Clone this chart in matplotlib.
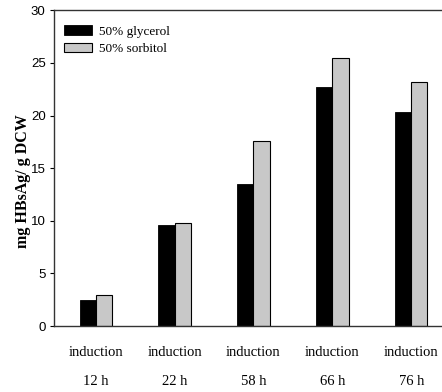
import matplotlib
matplotlib.use("Agg")
import matplotlib.pyplot as plt
import numpy as np

categories = ["induction\n12 h", "induction\n22 h", "induction\n58 h", "induction\n66 h", "induction\n76 h"]
glycerol = [2.45, 9.6, 13.5, 22.7, 20.3]
sorbitol = [2.95, 9.8, 17.6, 25.5, 23.2]
series_labels = ["50% glycerol", "50% sorbitol"]
yticks = [0, 5, 10, 15, 20, 25, 30]

fig = plt.figure(figsize=(4.42, 3.92), dpi=100)
ax = fig.add_axes([0.122, 0.168, 0.878, 0.806])

x = np.arange(len(categories))
w = 0.205
ax.bar(x - w / 2, glycerol, w, color="black", edgecolor="black", linewidth=0.6,
       label=series_labels[0])
ax.bar(x + w / 2, sorbitol, w, color="#c8c8c8", edgecolor="black", linewidth=0.8,
       label=series_labels[1])

ax.set_xlim(-0.53, 4.39)
ax.set_ylim(0, 30)
ax.set_yticks(yticks)
ax.set_yticklabels([str(t) for t in yticks], family="Liberation Sans", fontsize=9.5)
ax.tick_params(axis="y", direction="out", length=3, width=0.8, pad=3)
ax.set_xticks(x)
ax.set_xticklabels(categories, family="Liberation Serif", fontsize=10.5, linespacing=2.6)
ax.tick_params(axis="x", length=0, pad=14)

ax.spines["right"].set_visible(False)
for s in ["left", "bottom", "top"]:
    ax.spines[s].set_linewidth(1.0)
    ax.spines[s].set_color("#333333")

ax.set_ylabel("mg HBsAg/ g DCW", family="Liberation Serif", fontweight="bold",
              fontsize=11.5)
ax.yaxis.set_label_coords(-0.058, 0.46)

leg = ax.legend(loc="upper left", frameon=False, prop={"family": "Liberation Serif", "size": 9.5},
                handlelength=2.1, handleheight=0.75, borderaxespad=0.4, labelspacing=0.35,
                handletextpad=0.5, bbox_to_anchor=(0.0, 0.985))

fig.savefig("out.png", dpi=100)
